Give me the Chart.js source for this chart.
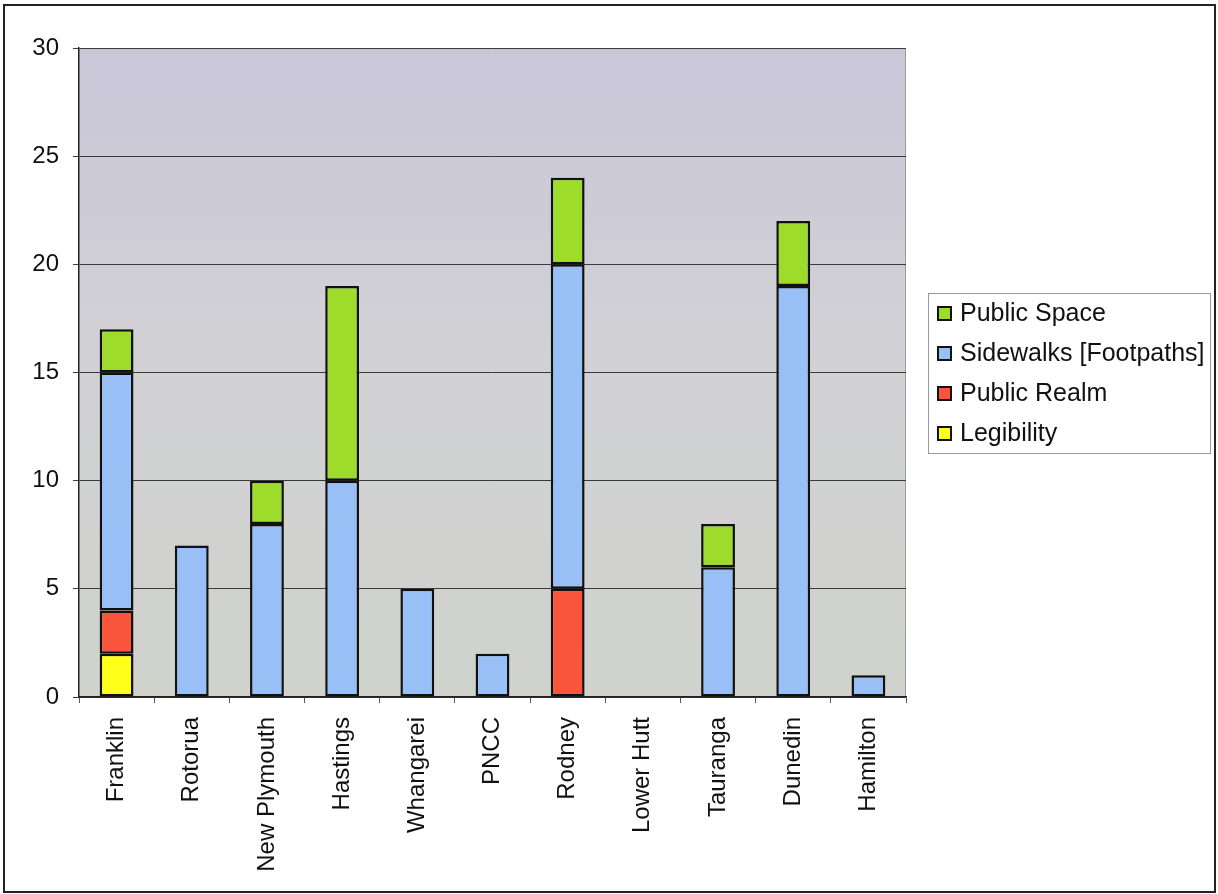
<!DOCTYPE html>
<html>
<head>
<meta charset="utf-8">
<script src="https://cdn.jsdelivr.net/npm/chart.js@4"></script>
<style>
  body { margin: 0; background: #fff; }
  canvas { display: block; }
</style>
</head>
<body>
<canvas id="chart" width="1218" height="894"></canvas>
<script>
const councils = ['Franklin', 'Rotorua', 'New Plymouth', 'Hastings', 'Whangarei', 'PNCC', 'Rodney', 'Lower Hutt', 'Tauranga', 'Dunedin', 'Hamilton']
const legibility = [2, 0, 0, 0, 0, 0, 0, 0, 0, 0, 0]
const publicRealm = [2, 0, 0, 0, 0, 0, 5, 0, 0, 0, 0]
const sidewalks = [11, 7, 8, 10, 5, 2, 15, 0, 6, 19, 1]
const publicSpace = [2, 0, 2, 9, 0, 0, 4, 0, 2, 3, 0]
const yTicks = [0, 5, 10, 15, 20, 25, 30]

const FONT = "'Liberation Sans', Arial, sans-serif"

// zeros are left out so no empty segment gets a border
const noZero = arr => arr.map(v => v === 0 ? null : v)

function seg(label, data, color) {
  return {
    label: label,
    data: noZero(data),
    backgroundColor: color,
    borderColor: '#111',
    borderWidth: 2.5,
    borderSkipped: false,
    barPercentage: 0.45,
    categoryPercentage: 1
  }
}

const chartBg = {
  id: 'chartBg',
  beforeDraw(chart) {
    const { ctx, chartArea: a } = chart
    ctx.save()
    const g = ctx.createLinearGradient(0, a.top, 0, a.bottom)
    g.addColorStop(0, '#c9c6d8')
    g.addColorStop(0.5, '#d2d2d5')
    g.addColorStop(1, '#d0d2cc')
    ctx.fillStyle = g
    ctx.fillRect(a.left, a.top, a.right - a.left, a.bottom - a.top)
    ctx.strokeStyle = '#9a9a9a'
    ctx.lineWidth = 1
    ctx.beginPath()
    ctx.moveTo(a.left, a.top + 0.5)
    ctx.lineTo(a.right - 0.5, a.top + 0.5)
    ctx.lineTo(a.right - 0.5, a.bottom)
    ctx.stroke()
    ctx.restore()
  },
  afterDraw(chart) {
    const ctx = chart.ctx
    ctx.save()
    // outer frame
    ctx.strokeStyle = '#222'
    ctx.lineWidth = 2
    ctx.strokeRect(4, 5, 1211, 887)

    // legend box
    ctx.fillStyle = '#fff'
    ctx.fillRect(928, 293, 282, 160)
    ctx.strokeStyle = '#999'
    ctx.lineWidth = 1
    ctx.strokeRect(928.5, 293.5, 282, 160)

    const items = chart.data.datasets.slice().reverse()
    ctx.font = '25px ' + FONT
    ctx.textBaseline = 'middle'
    items.forEach((ds, i) => {
      const y = 313 + i * 40
      ctx.fillStyle = ds.backgroundColor
      ctx.fillRect(938, y - 6, 13, 13)
      ctx.strokeStyle = '#111'
      ctx.lineWidth = 2
      ctx.strokeRect(938, y - 6, 13, 13)
      ctx.fillStyle = '#111'
      ctx.fillText(ds.label, 960, y + 1)
    })
    ctx.restore()
  }
}

new Chart(document.getElementById('chart'), {
  type: 'bar',
  data: {
    labels: councils,
    datasets: [
      seg('Legibility', legibility, '#ffff1a'),
      seg('Public Realm', publicRealm, '#f8553a'),
      seg('Sidewalks [Footpaths]', sidewalks, '#99bff7'),
      seg('Public Space', publicSpace, '#9fdb2a')
    ]
  },
  options: {
    responsive: false,
    animation: false,
    layout: { padding: { top: 48, right: 312, left: 0, bottom: 0 } },
    plugins: {
      legend: { display: false },
      tooltip: { enabled: false }
    },
    scales: {
      x: {
        stacked: true,
        afterFit: s => { s.height = 197 },
        grid: {
          drawOnChartArea: false,
          color: '#555',
          tickLength: 6,
          offset: true
        },
        border: { color: '#222', width: 1.5 },
        ticks: {
          autoSkip: false,
          minRotation: 90,
          maxRotation: 90,
          padding: 14,
          color: '#111',
          font: { family: FONT, size: 24 }
        }
      },
      y: {
        stacked: true,
        min: 0,
        max: 30,
        afterFit: s => { s.width = 79 },
        afterBuildTicks: s => { s.ticks = yTicks.map(v => ({ value: v })) },
        grid: {
          color: '#3a3a3a',
          lineWidth: 1,
          tickLength: 6
        },
        border: { color: '#222', width: 1.5 },
        ticks: {
          padding: 14,
          color: '#111',
          font: { family: FONT, size: 24 }
        }
      }
    }
  },
  plugins: [chartBg]
})
</script>
</body>
</html>
